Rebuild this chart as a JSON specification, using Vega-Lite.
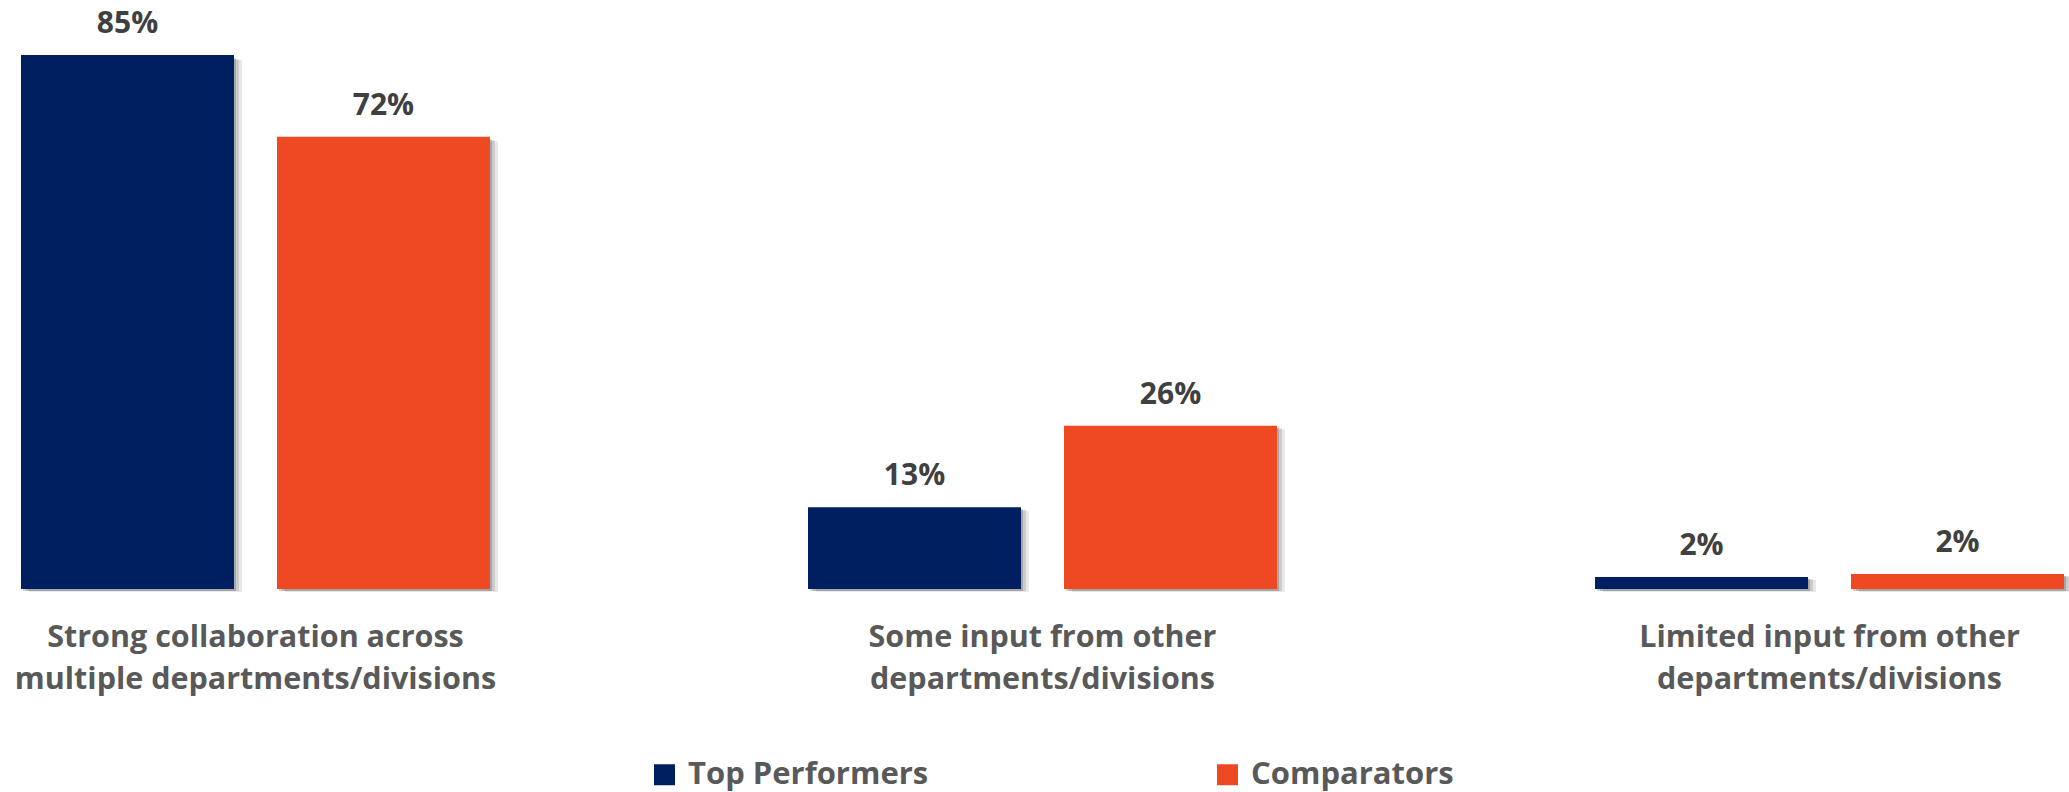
{
  "$schema": "https://vega.github.io/schema/vega-lite/v6.json",
  "width": 2069,
  "height": 534,
  "autosize": {"type": "none"},
  "padding": {"top": 55, "left": 0, "right": 0, "bottom": 203},
  "background": "white",
  "config": {
    "view": {"stroke": null},
    "font": "Open Sans"
  },
  "data": {
    "values": [
      {"category": "Strong collaboration across multiple departments/divisions", "group": "Top Performers", "value": 85, "label": "85%"},
      {"category": "Strong collaboration across multiple departments/divisions", "group": "Comparators", "value": 72, "label": "72%"},
      {"category": "Some input from other departments/divisions", "group": "Top Performers", "value": 13, "label": "13%"},
      {"category": "Some input from other departments/divisions", "group": "Comparators", "value": 26, "label": "26%"},
      {"category": "Limited input from other departments/divisions", "group": "Top Performers", "value": 1.9, "label": "2%"},
      {"category": "Limited input from other departments/divisions", "group": "Comparators", "value": 2.4, "label": "2%"}
    ]
  },
  "resolve": {"scale": {"x": "independent", "xOffset": "independent", "y": "independent"}},
  "layer": [
    {
      "mark": {"type": "bar", "color": "#000000", "opacity": 0.09},
      "encoding": {
        "x": {"field": "category", "type": "nominal", "sort": null, "axis": null,
          "scale": {"range": [8, 2093], "paddingInner": 0.4041, "paddingOuter": 0.02668}},
        "xOffset": {"field": "group", "type": "nominal", "sort": ["Top Performers", "Comparators"], "scale": {"paddingInner": 0.168, "paddingOuter": 0}},
        "y": {"field": "value", "type": "quantitative", "axis": null, "scale": {"domain": [0, 85], "nice": false, "range": [537, 5]}}
      }
    },
    {
      "mark": {"type": "bar", "color": "#000000", "opacity": 0.12},
      "encoding": {
        "x": {"field": "category", "type": "nominal", "sort": null, "axis": null,
          "scale": {"range": [5, 2090], "paddingInner": 0.4041, "paddingOuter": 0.02668}},
        "xOffset": {"field": "group", "type": "nominal", "sort": ["Top Performers", "Comparators"], "scale": {"paddingInner": 0.168, "paddingOuter": 0}},
        "y": {"field": "value", "type": "quantitative", "axis": null, "scale": {"domain": [0, 85], "nice": false, "range": [536, 4]}}
      }
    },
    {
      "mark": {"type": "bar", "color": "#000000", "opacity": 0.18},
      "encoding": {
        "x": {"field": "category", "type": "nominal", "sort": null, "axis": null,
          "scale": {"range": [2, 2087], "paddingInner": 0.4041, "paddingOuter": 0.02668}},
        "xOffset": {"field": "group", "type": "nominal", "sort": ["Top Performers", "Comparators"], "scale": {"paddingInner": 0.168, "paddingOuter": 0}},
        "y": {"field": "value", "type": "quantitative", "axis": null, "scale": {"domain": [0, 85], "nice": false, "range": [536, 3]}}
      }
    },
    {
      "encoding": {
        "x": {
          "field": "category",
          "type": "nominal",
          "sort": null,
          "scale": {"range": [0, 2085], "paddingInner": 0.4041, "paddingOuter": 0.02668},
          "axis": {
            "title": null,
            "domain": false,
            "ticks": false,
            "labelAngle": 0,
            "labelFont": "Open Sans",
            "labelFontWeight": "bold",
            "labelFontSize": 30.5,
            "labelColor": "#595959",
            "labelPadding": 33,
            "labelLineHeight": 42,
            "labelLimit": 0,
            "labelExpr": "datum.value == 'Strong collaboration across multiple departments/divisions' ? ['Strong collaboration across', 'multiple departments/divisions'] : datum.value == 'Some input from other departments/divisions' ? ['Some input from other', 'departments/divisions'] : ['Limited input from other', 'departments/divisions']"
          }
        },
        "xOffset": {
          "field": "group",
          "type": "nominal",
          "sort": ["Top Performers", "Comparators"],
          "scale": {"paddingInner": 0.168, "paddingOuter": 0}
        },
        "y": {
          "field": "value",
          "type": "quantitative",
          "scale": {"domain": [0, 85], "nice": false, "zero": true},
          "axis": null
        }
      },
      "layer": [
        {
          "mark": {"type": "bar"},
          "encoding": {
            "color": {
              "field": "group",
              "type": "nominal",
              "sort": ["Top Performers", "Comparators"],
              "scale": {"domain": ["Top Performers", "Comparators"], "range": ["#001F60", "#EF4923"]},
              "legend": {
                "title": null,
                "orient": "none",
                "direction": "horizontal",
                "legendX": 649,
                "legendY": 704,
                "padding": 0,
                "symbolType": "square",
                "symbolSize": 441,
                "symbolStrokeWidth": 0,
                "symbolOpacity": 1,
                "labelFont": "Open Sans",
                "labelFontWeight": "bold",
                "labelFontSize": 31,
                "labelColor": "#595959",
                "labelOffset": 8,
                "labelLimit": 0,
                "columnPadding": 283
              }
            }
          }
        },
        {
          "mark": {"type": "text", "baseline": "alphabetic", "dy": -22, "font": "Open Sans", "fontWeight": "bold", "fontSize": 30, "color": "#404040"},
          "encoding": {"text": {"field": "label"}}
        }
      ]
    }
  ]
}
